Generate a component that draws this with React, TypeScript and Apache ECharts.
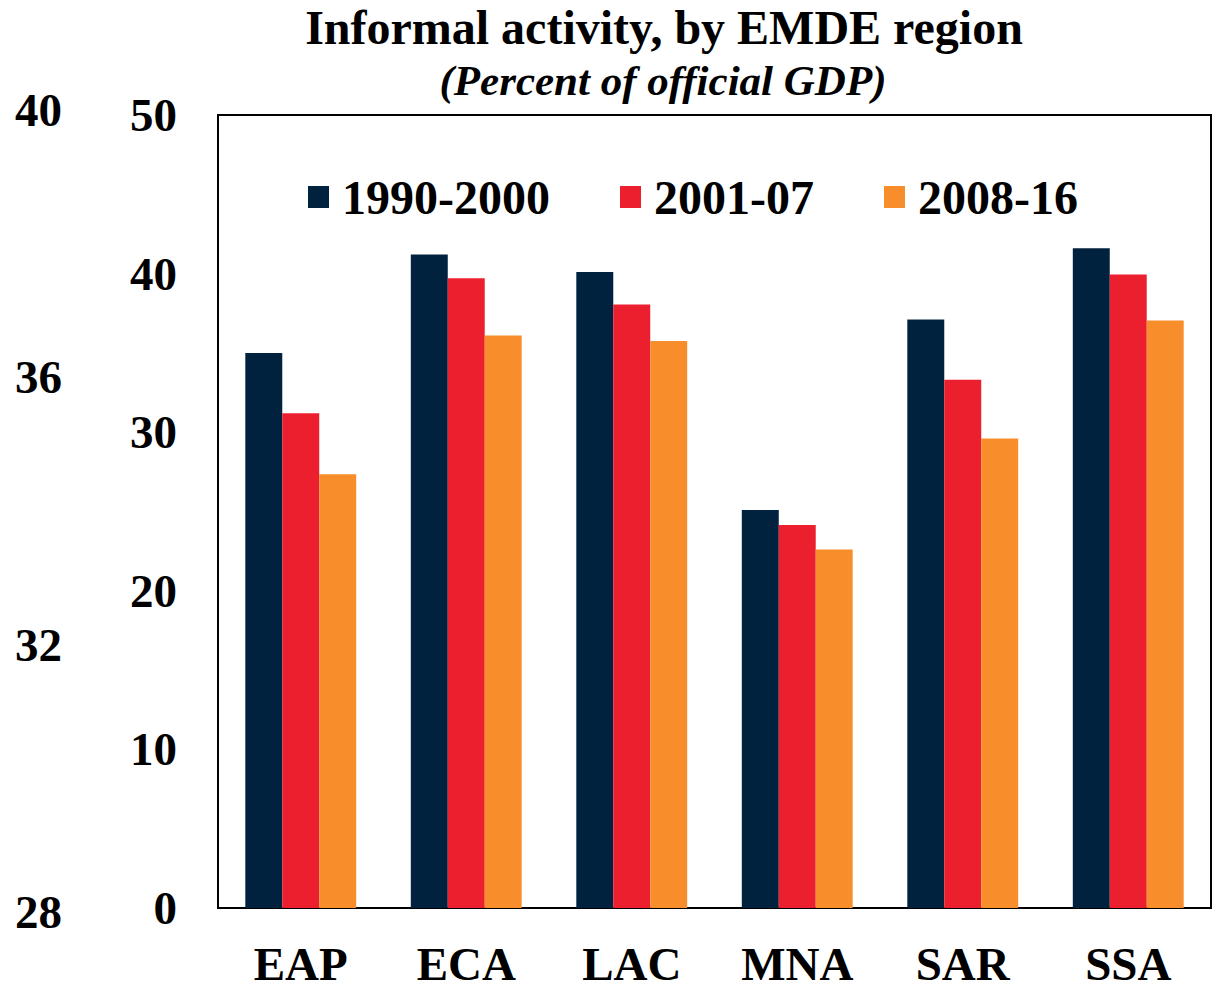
import React, { useEffect, useRef } from "react";
import * as echarts from "echarts";

const categories = ["EAP", "ECA", "LAC", "MNA", "SAR", "SSA"];
const seriesNames = ["1990-2000", "2001-07", "2008-16"];
const values1990 = [35.0, 41.2, 40.1, 25.1, 37.1, 41.6];
const values2001 = [31.2, 39.7, 38.05, 24.15, 33.3, 39.95];
const values2008 = [27.35, 36.1, 35.75, 22.6, 29.6, 37.05];
const colors = ["#00223F", "#EB1F2E", "#F78E2B"];
const titleText = "Informal activity, by EMDE region";
const subtitleText = "(Percent of official GDP)";

const FONT = '"Liberation Serif", "Times New Roman", serif';

export default function App() {
  const ref = useRef<HTMLDivElement>(null);
  useEffect(() => {
    if (!ref.current) return;
    const chart = echarts.init(ref.current, null, { renderer: "svg" });
    const baseText = { fontFamily: FONT, fontWeight: "bold" as const, color: "#000" };
    chart.setOption({
      animation: false,
      backgroundColor: "#fff",
      textStyle: { fontFamily: FONT },
      title: [
        {
          text: titleText,
          left: 659,
          top: -2,
          textAlign: "center",
          textStyle: { ...baseText, fontSize: 48 },
        },
        {
          text: subtitleText,
          left: 658,
          top: 54,
          textAlign: "center",
          textStyle: { ...baseText, fontSize: 43, fontStyle: "italic" },
        },
      ],
      legend: {
        data: seriesNames,
        left: 303,
        top: 168,
        itemWidth: 21,
        itemHeight: 22,
        itemGap: 70,
        icon: "rect",
        textStyle: { ...baseText, fontSize: 48, padding: [0, 0, 0, 8] },
      },
      grid: [
        {
          left: 218,
          top: 115,
          right: 6,
          bottom: 87,
          show: true,
          borderColor: "#000",
          borderWidth: 2,
          backgroundColor: "transparent",
        },
        {
          left: 70,
          top: 110,
          width: 10,
          bottom: 83,
          show: false,
        },
      ],
      xAxis: [
        {
          type: "category",
          gridIndex: 0,
          data: categories,
          axisLine: { lineStyle: { color: "#000", width: 2 } },
          axisTick: { show: false },
          axisLabel: { ...baseText, fontSize: 47, margin: 32 },
        },
        {
          type: "value",
          gridIndex: 1,
          show: false,
        },
      ],
      yAxis: [
        {
          type: "value",
          gridIndex: 0,
          min: 0,
          max: 50,
          interval: 10,
          axisLine: { show: true, lineStyle: { color: "#000", width: 2 } },
          axisTick: { show: false },
          splitLine: { show: false },
          axisLabel: { ...baseText, fontSize: 47, margin: 41 },
        },
        {
          type: "value",
          gridIndex: 1,
          min: 28,
          max: 40,
          interval: 4,
          axisLine: { show: false },
          axisTick: { show: false },
          splitLine: { show: false },
          axisLabel: { ...baseText, fontSize: 47, margin: 8 },
        },
      ],
      series: [values1990, values2001, values2008].map((vals, i) => ({
        name: seriesNames[i],
        type: "bar",
        xAxisIndex: 0,
        yAxisIndex: 0,
        data: vals,
        barGap: "0%",
        barCategoryGap: "33%",
        itemStyle: { color: colors[i] },
      })),
    });
    return () => chart.dispose();
  }, []);
  return <div ref={ref} style={{ width: 1217, height: 995, position: "absolute", left: 0, top: 0 }} />;
}
